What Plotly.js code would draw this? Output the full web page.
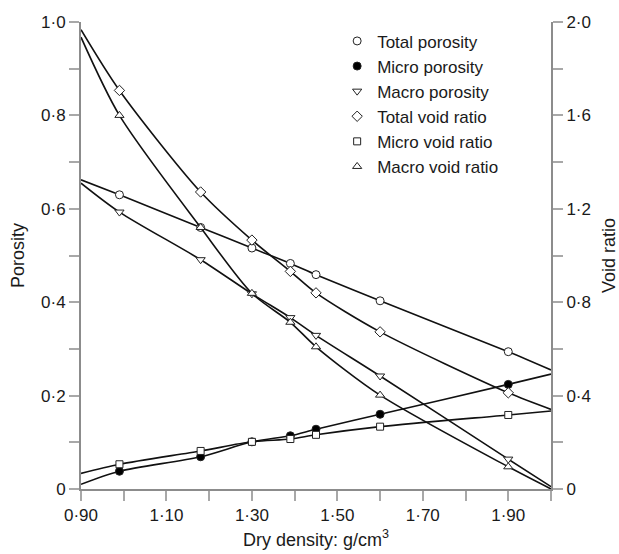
<!DOCTYPE html>
<html>
<head>
<meta charset="utf-8">
<script src="https://cdn.plot.ly/plotly-3.0.1.min.js"></script>
<style>html,body{margin:0;padding:0;background:#fff;}#chart{width:619px;height:554px;}</style>
</head>
<body>
<div id="chart"></div>
<script>
// Dry density (g/cm3) of measured samples
const density = [0.99, 1.18, 1.30, 1.39, 1.45, 1.60, 1.90];
// Porosity series (left axis)
const totalPorosity = [0.630, 0.560, 0.516, 0.483, 0.459, 0.403, 0.294];
const microPorosity = [0.038, 0.069, 0.101, 0.114, 0.128, 0.160, 0.224];
const macroPorosity = [0.593, 0.491, 0.418, 0.367, 0.329, 0.242, 0.064];
// Void ratio series (right axis)
const totalVoid = [1.707, 1.272, 1.066, 0.932, 0.840, 0.673, 0.412];
const microVoid = [0.106, 0.163, 0.202, 0.214, 0.232, 0.267, 0.317];
const macroVoid = [1.600, 1.120, 0.838, 0.714, 0.609, 0.402, 0.095];
// Fitted-curve ends at the axis limits (0.90 and 2.00)
const curveEnds = [0.90, 2.00];
const totalPorosityEnds = [0.662, 0.255];
const microPorosityEnds = [0.010, 0.246];
const macroPorosityEnds = [0.655, 0.005];
const totalVoidEnds = [1.967, 0.341];
const microVoidEnds = [0.067, 0.334];
const macroVoidEnds = [1.935, 0.000];
// Ticks
const xTickVals = [0.9,1.0,1.1,1.2,1.3,1.4,1.5,1.6,1.7,1.8,1.9,2.0];
const xTickText = ['0·90',' ','1·10',' ','1·30',' ','1·50',' ','1·70',' ','1·90',' '];
const yTickVals = [0,0.1,0.2,0.3,0.4,0.5,0.6,0.7,0.8,0.9,1.0];
const yTickText = ['0',' ','0·2',' ','0·4',' ','0·6',' ','0·8',' ','1·0'];
const y2TickVals = [0,0.2,0.4,0.6,0.8,1.0,1.2,1.4,1.6,1.8,2.0];
const y2TickText = ['0',' ','0·4',' ','0·8',' ','1·2',' ','1·6',' ','2·0'];

const names = ['Total porosity','Micro porosity','Macro porosity','Total void ratio','Micro void ratio','Macro void ratio'];
const series = [
  {y: totalPorosity, ends: totalPorosityEnds, axis: 'y', symbol: 'circle', fill: '#fff'},
  {y: microPorosity, ends: microPorosityEnds, axis: 'y', symbol: 'circle', fill: '#000'},
  {y: macroPorosity, ends: macroPorosityEnds, axis: 'y', symbol: 'triangle-down', fill: '#fff'},
  {y: totalVoid, ends: totalVoidEnds, axis: 'y2', symbol: 'diamond', fill: '#fff'},
  {y: microVoid, ends: microVoidEnds, axis: 'y2', symbol: 'square', fill: '#fff'},
  {y: macroVoid, ends: macroVoidEnds, axis: 'y2', symbol: 'triangle-up', fill: '#fff'}
];

const traces = [];
series.forEach(s => {
  traces.push({
    x: [curveEnds[0]].concat(density, [curveEnds[1]]),
    y: [s.ends[0]].concat(s.y, [s.ends[1]]),
    yaxis: s.axis, mode: 'lines', showlegend: false, hoverinfo: 'skip',
    line: {color: '#111', width: 1.6, shape: 'spline', smoothing: 0.8}
  });
});
series.forEach((s, i) => {
  traces.push({
    x: density, y: s.y, yaxis: s.axis, mode: 'markers', name: names[i],
    marker: {symbol: s.symbol, size: s.symbol === 'square' ? 7 : 8, color: s.fill, line: {color: '#222', width: 1}}
  });
});

const fam = 'Liberation Sans, Arial, Helvetica, sans-serif';
const tickFont = {family: fam, size: 17, color: '#1a1a1a'};
const titleFont = {family: fam, size: 18, color: '#1a1a1a'};
const axisCommon = {
  showgrid: false, zeroline: false, showline: true, linecolor: '#8c8c8c', linewidth: 2,
  ticks: 'outside', ticklen: 10, tickwidth: 2, tickcolor: '#a8a8a8', tickfont: tickFont, tickmode: 'array'
};
const layout = {
  width: 619, height: 554,
  margin: {l: 81, r: 68, t: 22, b: 65},
  paper_bgcolor: '#fff', plot_bgcolor: '#fff',
  font: titleFont,
  showlegend: true,
  legend: {x: 0.545, y: 0.997, xanchor: 'left', yanchor: 'top', bgcolor: 'rgba(0,0,0,0)',
           font: {family: fam, size: 17, color: '#1a1a1a'}},
  xaxis: Object.assign({}, axisCommon, {range: [0.9, 2.0], tickvals: xTickVals, ticktext: xTickText,
          title: {text: 'Dry density: g/cm<sup>3</sup>', font: titleFont, standoff: 9}}),
  yaxis: Object.assign({}, axisCommon, {range: [0, 1.0], tickvals: yTickVals, ticktext: yTickText,
          title: {text: 'Porosity', font: titleFont, standoff: 12}}),
  yaxis2: Object.assign({}, axisCommon, {range: [0, 2.0], overlaying: 'y', side: 'right', tickvals: y2TickVals, ticktext: y2TickText,
          title: {text: 'Void ratio', font: titleFont, standoff: 14}})
};
Plotly.newPlot('chart', traces, layout, {displayModeBar: false, staticPlot: true});
</script>
</body>
</html>
